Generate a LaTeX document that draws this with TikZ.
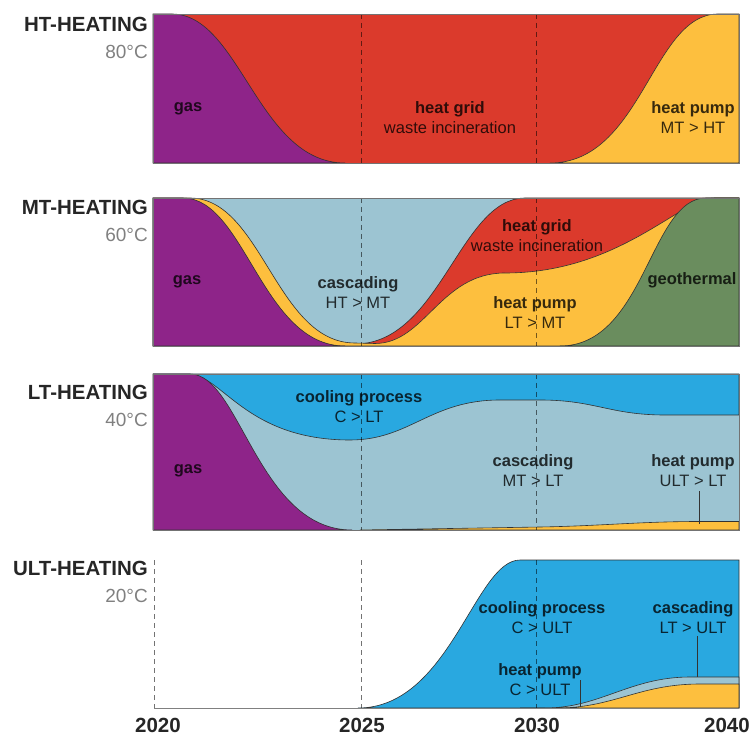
\documentclass[tikz,border=0pt]{standalone}
\usepackage{fontspec}
\setmainfont{Liberation Sans}

\definecolor{gascol}{HTML}{8E2489}
\definecolor{gridcol}{HTML}{DB3A2C}
\definecolor{pumpcol}{HTML}{FDBF3E}
\definecolor{casccol}{HTML}{9CC4D2}
\definecolor{coolcol}{HTML}{29A8E0}
\definecolor{geocol}{HTML}{6A8D5E}
\definecolor{ink}{HTML}{262626}

\tikzset{
  heading/.style={anchor=base east, inner sep=0pt, text=ink,
    font=\bfseries\fontsize{20.5}{24}\selectfont},
  degree/.style={anchor=base east, inner sep=0pt, text=black!50,
    font=\fontsize{19}{22}\selectfont},
  tag/.style={align=center, inner sep=0pt, text=black, text opacity=0.78,
    font=\fontsize{16.5}{20}\selectfont},
  year/.style={anchor=base, inner sep=0pt, text=ink, font=\bfseries\fontsize{20.5}{24}\selectfont},
  area/.style={fill=#1, draw=black!80, line width=0.6pt},
  border/.style={draw=black!55, line width=0.7pt},
  guide/.style={draw=black, draw opacity=0.55, line width=0.7pt, dash pattern=on 5pt off 4pt},
  pointer/.style={draw=black!80, line width=0.7pt},
  axisline/.style={draw=black!50, line width=1pt}
}

\begin{document}
\begin{tikzpicture}[x=1pt, y=-1pt]
  \useasboundingbox (0,0) rectangle (753,735);

  % HT-heating: gas -> heat grid -> heat pump
  \fill[gridcol] (153,14) rectangle (739,163);
  \filldraw[area=gascol] (153,14) -- (172,14) .. controls (240,14) and (258,163) .. (345,163) -- (153,163) -- cycle;
  \filldraw[area=pumpcol] (550,163) .. controls (642,163) and (652,14) .. (718,14) -- (739,14) -- (739,163) -- cycle;

  % MT-heating: stacked from the bottom
  \fill[casccol] (153,198) rectangle (739,346);
  \filldraw[area=gridcol] (355,346) -- (355,344) .. controls (440,344) and (460,198) .. (525,198) -- (739,198) -- (739,346) -- cycle;
  \filldraw[area=pumpcol] (153,346) -- (153,198) -- (190,198) .. controls (262,198) and (276,343) .. (355,343) -- (375,343.5)
    .. controls (425,343.5) and (440,273) .. (505,273) .. controls (620,273) and (680,198) .. (715,198) -- (739,198) -- (739,346) -- cycle;
  \filldraw[area=gascol] (153,198) -- (183,198) .. controls (245,198) and (262,346) .. (345,346) -- (153,346) -- cycle;
  \filldraw[area=geocol] (560,346) .. controls (645,346) and (650,198) .. (706,198) -- (739,198) -- (739,346) -- cycle;

  % LT-heating
  \fill[casccol] (153,374) rectangle (739,530);
  \filldraw[area=coolcol] (153,374) -- (188,374) .. controls (222,374) and (245,440) .. (350,440)
    .. controls (410,440) and (430,400) .. (500,400) -- (540,400) .. controls (595,400) and (610,415) .. (665,415) -- (739,415) -- (739,374) -- cycle;
  \filldraw[area=gascol] (153,374) -- (190,374) .. controls (240,374) and (258,530) .. (352,530) -- (153,530) -- cycle;
  \filldraw[area=pumpcol] (360,530) -- (540,527) .. controls (600,526) and (640,521.5) .. (700,521.5) -- (739,521.5) -- (739,530) -- cycle;

  % ULT-heating
  \filldraw[area=coolcol] (358,708) .. controls (450,708) and (475,560) .. (520,560) -- (739,560) -- (739,708) -- cycle;
  \filldraw[area=casccol] (520,708) -- (545,708) .. controls (600,708) and (630,677) .. (690,677) -- (739,677) -- (739,708) -- cycle;
  \filldraw[area=pumpcol] (560,708) .. controls (615,707) and (640,684) .. (700,684) -- (739,684) -- (739,708) -- cycle;
  \draw[axisline] (154,708) -- (739,708);

  % Dashed year lines
  \foreach \x in {361,536} {
    \draw[guide] (\x,14) -- (\x,163);
    \draw[guide] (\x,198) -- (\x,346);
    \draw[guide] (\x,374) -- (\x,530);
    \draw[guide] (\x,560) -- (\x,708);
  }
  \draw[guide] (154,560) -- (154,708);

  % Panel frames
  \draw[border] (153,14) rectangle (739,163);
  \draw[border] (153,198) rectangle (739,346);
  \draw[border] (153,374) rectangle (739,530);

  % Headings
  \node[heading] (ht) at (148,32) {HT-HEATING};
  \node[degree] (htdeg) at (148,59) {80°C};
  \node[heading] (mt) at (148,215) {MT-HEATING};
  \node[degree] (mtdeg) at (148,242) {60°C};
  \node[heading] (lt) at (148,400) {LT-HEATING};
  \node[degree] (ltdeg) at (148,427) {40°C};
  \node[heading] (ult) at (148,575) {ULT-HEATING};
  \node[degree] (ultdeg) at (148,602) {20°C};

  % Labels in the areas
  \node[tag] (gas1) at (188,109) {\textbf{gas}};
  \node[tag] (grid1) at (450,118) {\textbf{heat grid}\\waste incineration};
  \node[tag] (hp1) at (693,118) {\textbf{heat pump}\\MT > HT};

  \node[tag] (gas2) at (187,282) {\textbf{gas}};
  \node[tag] (ca2) at (358,292.5) {\textbf{cascading}\\HT > MT};
  \node[tag] (grid2) at (537,236) {\textbf{heat grid}\\waste incineration};
  \node[tag] (hp2) at (535,312.5) {\textbf{heat pump}\\LT > MT};
  \node[tag] (geo2) at (692,280) {\textbf{geothermal}};

  \node[tag] (co3) at (359,407) {\textbf{cooling process}\\C > LT};
  \node[tag] (gas3) at (188,471) {\textbf{gas}};
  \node[tag] (ca3) at (533,471) {\textbf{cascading}\\MT > LT};
  \node[tag] (hp3) at (693,471) {\textbf{heat pump}\\ULT > LT};

  \node[tag] (co4) at (542,617.5) {\textbf{cooling process}\\C > ULT};
  \node[tag] (hp4) at (540,679.5) {\textbf{heat pump}\\C > ULT};
  \node[tag] (ca4) at (693,617.5) {\textbf{cascading}\\LT > ULT};

  % Pointers to the thin layers
  \coordinate (hp3tip) at (699,524);
  \coordinate (hp4top) at (580,680);
  \coordinate (hp4tip) at (580,707);
  \coordinate (ca4tip) at (697,677);
  \draw[pointer] ([yshift=-4pt]hp3.south -| hp3tip) -- (hp3tip);
  \draw[pointer] (hp4top) -- (hp4tip);
  \draw[pointer] ([yshift=-2pt]ca4.south -| ca4tip) -- (ca4tip);

  % Years along the bottom
  \foreach \yr/\x in {2020/158, 2025/362, 2030/537, 2040/727}
    \node[year] (y\yr) at (\x,732) {\yr};
\end{tikzpicture}
\end{document}
